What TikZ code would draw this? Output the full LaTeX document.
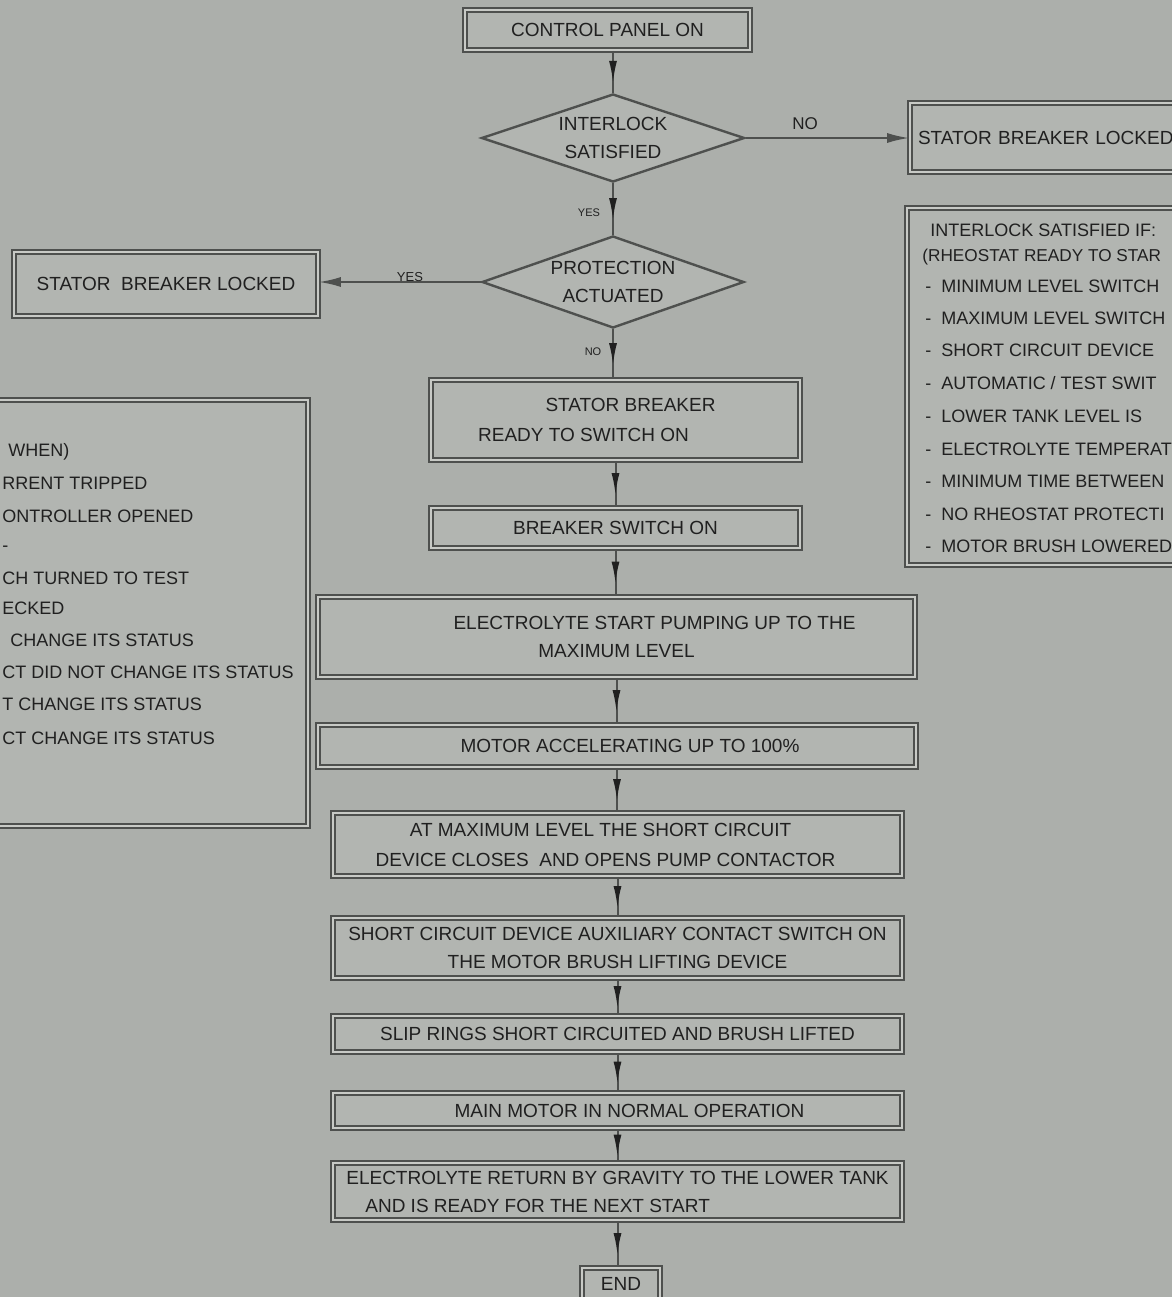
\documentclass[tikz,border=0pt]{standalone}
\usepackage{fontspec}
\setmainfont{Liberation Sans}
\usetikzlibrary{shapes.geometric,arrows.meta,decorations.markings}
\definecolor{bg}{RGB}{172,175,171}
\definecolor{boxfill}{RGB}{178,181,177}
\definecolor{linec}{RGB}{78,80,78}
\definecolor{dbl}{RGB}{200,202,198}
\definecolor{txt}{RGB}{32,32,32}
\tikzset{
  cadbox/.style={draw=linec, line width=0.8pt, double=dbl, double distance=1.2pt,
    fill=boxfill, inner sep=0pt, text=txt, align=center,
    font=\fontsize{9.5}{14}\selectfont},
  decide/.style={draw=linec, line width=1.2pt, fill=boxfill, inner sep=0pt, text=txt,
    align=center, font=\fontsize{9.5}{14}\selectfont, shape=diamond, aspect=3},
  notetext/.style={text=txt, inner sep=0pt, font=\fontsize{9}{11}\selectfont},
  lbl/.style={text=txt, inner sep=0pt, font=\fontsize{8.5}{10}\selectfont},
  tinylbl/.style={text=txt, inner sep=0pt, font=\fontsize{5.5}{7}\selectfont},
  flow/.style={draw=linec, line width=1pt, postaction={decorate},
    decoration={markings, mark=at position 0.5 with {\arrow[xshift=5.5pt,txt]{Latex[length=11pt,width=4pt]}}}},
  side/.style={draw=linec, line width=1pt, -{Latex[length=11pt,width=5pt]}},
}
\begin{document}
\begin{tikzpicture}[x=0.5pt,y=-0.5pt]
\useasboundingbox (0,0) rectangle (1172,1297);
\clip (0,0) rectangle (1172,1297);
\fill[bg] (0,0) rectangle (1172,1297);

% notes boxes
\node[cadbox, minimum width=164pt, minimum height=213pt] (ln) at (144,613) {};
\node[cadbox, minimum width=171.5pt, minimum height=178.5pt] (rn) at (1078.5,386.5) {};

% left note lines
\node[notetext, anchor=base west] (l1) at (8,456) {WHEN)};
\node[notetext, anchor=base west] (l2) at (2,489) {RRENT TRIPPED};
\node[notetext, anchor=base west] (l3) at (2,522) {ONTROLLER OPENED};
\node[notetext, anchor=base west] (l4) at (2,551) {-};
\node[notetext, anchor=base west] (l5) at (2,584) {CH TURNED TO TEST};
\node[notetext, anchor=base west] (l6) at (2,614) {ECKED};
\node[notetext, anchor=base west] (l7) at (10,646) {CHANGE ITS STATUS};
\node[notetext, anchor=base west] (l8) at (2,678) {CT DID NOT CHANGE ITS STATUS};
\node[notetext, anchor=base west] (l9) at (2,710) {T CHANGE ITS STATUS};
\node[notetext, anchor=base west] (l10) at (2,744) {CT CHANGE ITS STATUS};

% right note lines
\node[notetext, anchor=base west] (r1) at (930,236) {INTERLOCK SATISFIED IF:};
\node[notetext, anchor=base west, font=\fontsize{8.6}{11}\selectfont] (r2) at (922,261) {(RHEOSTAT READY TO STAR};
\node[notetext, anchor=base west] (r3) at (925,292) {-\ \ MINIMUM LEVEL SWITCH};
\node[notetext, anchor=base west] (r4) at (925,324) {-\ \ MAXIMUM LEVEL SWITCH};
\node[notetext, anchor=base west] (r5) at (925,356) {-\ \ SHORT CIRCUIT DEVICE};
\node[notetext, anchor=base west] (r6) at (925,389) {-\ \ AUTOMATIC / TEST SWIT};
\node[notetext, anchor=base west] (r7) at (925,422) {-\ \ LOWER TANK LEVEL IS};
\node[notetext, anchor=base west] (r8) at (925,455) {-\ \ ELECTROLYTE TEMPERAT};
\node[notetext, anchor=base west] (r9) at (925,487) {-\ \ MINIMUM TIME BETWEEN};
\node[notetext, anchor=base west] (r10) at (925,520) {-\ \ NO RHEOSTAT PROTECTI};
\node[notetext, anchor=base west] (r11) at (925,552) {-\ \ MOTOR BRUSH LOWERED};

% flow nodes
\node[cadbox, minimum width=142.5pt, minimum height=20pt] (cp) at (607.5,30) {CONTROL PANEL ON};
\node[decide, minimum width=131.5pt, minimum height=44pt] (i1) at (613,138) {INTERLOCK\\SATISFIED};
\node[cadbox, minimum width=170pt, minimum height=34.5pt, text width=162pt, inner xsep=4pt, align=left] (sbr) at (1080,137.5) {STATOR BREAKER LOCKED};
\node[decide, minimum width=131pt, minimum height=46pt] (p1) at (613,282) {PROTECTION\\ACTUATED};
\node[cadbox, minimum width=152pt, minimum height=32pt] (sbl) at (166,284) {STATOR\ \ BREAKER LOCKED};
\node[cadbox, minimum width=184.5pt, minimum height=40pt] (sr) at (615.5,420) {\hspace*{15pt}STATOR BREAKER\\[1pt] READY TO SWITCH ON\hspace*{32pt}};
\node[cadbox, minimum width=184.5pt, minimum height=20pt] (bs) at (615.5,528) {BREAKER SWITCH ON};
\node[cadbox, minimum width=298.5pt, minimum height=40pt] (ep) at (616.5,637) {\hspace*{38pt}ELECTROLYTE START PUMPING UP TO THE\\ MAXIMUM LEVEL};
\node[cadbox, minimum width=299pt, minimum height=21pt] (ma) at (617,746) {\hspace*{13pt}MOTOR ACCELERATING UP TO 100\%};
\node[cadbox, minimum width=284.5pt, minimum height=31.5pt] (ml) at (617.5,844.5) {AT MAXIMUM LEVEL THE SHORT CIRCUIT\hspace*{17pt}\\[1pt] DEVICE CLOSES\ \ AND OPENS PUMP CONTACTOR\hspace*{12pt}};
\node[cadbox, minimum width=284.5pt, minimum height=30pt] (sc) at (617.5,948) {SHORT CIRCUIT DEVICE AUXILIARY CONTACT SWITCH ON\\ THE MOTOR BRUSH LIFTING DEVICE};
\node[cadbox, minimum width=284.5pt, minimum height=18pt] (sl) at (617.5,1034) {SLIP RINGS SHORT CIRCUITED AND BRUSH LIFTED};
\node[cadbox, minimum width=284.5pt, minimum height=17.5pt] (mm) at (617.5,1110.5) {\hspace*{12pt}MAIN MOTOR IN NORMAL OPERATION};
\node[cadbox, minimum width=284.5pt, minimum height=28.5pt, align=left] (er) at (617.5,1191.5) {ELECTROLYTE RETURN BY GRAVITY TO THE LOWER TANK\\ \hspace*{9.5pt}AND IS READY FOR THE NEXT START};
\node[cadbox, minimum width=39pt, minimum height=16pt] (en) at (621,1284) {END};

% connectors
\draw[flow] (cp.south -| i1.north) -- (i1.north);
\draw[flow] (i1.south) -- (p1.north);
\draw[side] (i1.east) -- (i1.east -| sbr.west);
\draw[side] (p1.west) -- (p1.west -| sbl.east);
\draw[flow] (p1.south) -- (p1.south |- sr.north);
\draw[flow] (sr.south) -- (bs.north);
\draw[flow] (bs.south) -- (bs.south |- ep.north);
\draw[flow] (ep.south) -- (ep.south |- ma.north);
\draw[flow] (ma.south) -- (ma.south |- ml.north);
\draw[flow] (ml.south) -- (sc.north);
\draw[flow] (sc.south) -- (sl.north);
\draw[flow] (sl.south) -- (mm.north);
\draw[flow] (mm.south) -- (er.north);
\draw[flow] (er.south) -- (er.south |- en.north);

% labels
\node[lbl] (no1) at (805,124) {NO};
\node[tinylbl] (yes1) at (589,213) {YES};
\node[lbl, font=\fontsize{6.5}{8}\selectfont] (yes2) at (410,277) {YES};
\node[tinylbl] (no2) at (593,352) {NO};
\end{tikzpicture}
\end{document}
